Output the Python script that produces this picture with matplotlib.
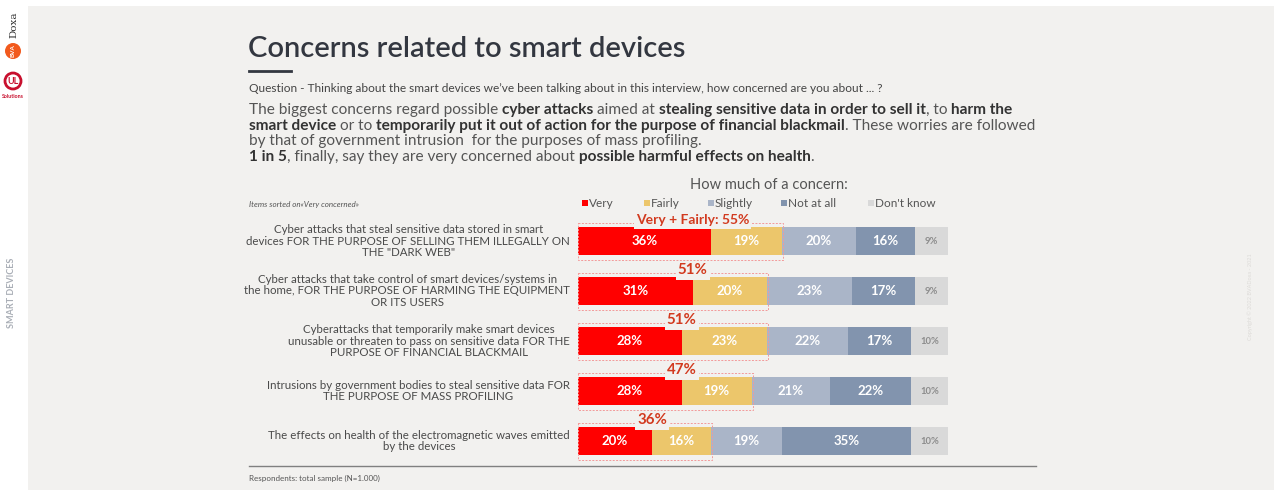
import matplotlib as mpl
import matplotlib.pyplot as plt
from matplotlib.patches import Rectangle, Ellipse
mpl.use('Agg')

W, H = 1274, 490

# survey items, top to bottom
items = [
    'Cyber attacks that steal sensitive data stored in smart\n'
    'devices FOR THE PURPOSE OF SELLING THEM ILLEGALLY ON\n'
    'THE "DARK WEB"',
    'Cyber attacks that take control of smart devices/systems in\n'
    'the home, FOR THE PURPOSE OF HARMING THE EQUIPMENT\n'
    'OR ITS USERS',
    'Cyberattacks that temporarily make smart devices\n'
    'unusable or threaten to pass on sensitive data FOR THE\n'
    'PURPOSE OF FINANCIAL BLACKMAIL',
    'Intrusions by government bodies to steal sensitive data FOR\n'
    'THE PURPOSE OF MASS PROFILING',
    'The effects on health of the electromagnetic waves emitted\n'
    'by the devices',
]
levels = ['Very', 'Fairly', 'Slightly', 'Not at all', "Don't know"]
very = [36, 31, 28, 28, 20]
fairly = [19, 20, 23, 19, 16]
slightly = [20, 23, 22, 21, 19]
not_at_all = [16, 17, 17, 22, 35]
dont_know = [9, 9, 10, 10, 10]

colors = ['#ff0000', '#ecc66b', '#aab5c8', '#8294ae', '#d9d9d9']
label_colors = ['white', 'white', 'white', 'white', '#8c8c8c']
BG = '#f2f1ef'
FONT = ['Lato', 'DejaVu Sans']
plt.rcParams['font.family'] = FONT

fig = plt.figure(figsize=(W / 100, H / 100), dpi=100, facecolor='white')
renderer = fig.canvas.get_renderer()


def fx(x):
    return x / W


def fy(y):
    return 1 - y / H


def text_px(x, y, s, **kw):
    return fig.text(fx(x), fy(y), s, **kw)


def circle_px(x, y, r, **kw):
    fig.add_artist(Ellipse((fx(x), fy(y)), 2 * r / W, 2 * r / H,
                           transform=fig.transFigure, **kw))


def text_width(s, **kw):
    t = fig.text(0, 0, s, **kw)
    w = t.get_window_extent(renderer).width
    t.remove()
    return w


def rich_line(x, y, runs, size, colors_nb=('#555555', '#333333')):
    # runs of (text, bold) laid out one after another on a line
    for chunk, bold in runs:
        kw = dict(fontsize=size, weight='bold' if bold else 'normal')
        sp = text_width('a a', **kw) - text_width('aa', **kw)
        core = chunk.strip(' ')
        lead = len(chunk) - len(chunk.lstrip(' '))
        trail = len(chunk) - len(chunk.rstrip(' '))
        x += lead * sp
        if core:
            text_px(x, y, core, va='center', ha='left',
                    color=colors_nb[1] if bold else colors_nb[0], **kw)
            x += text_width(core, **kw)
        x += trail * sp


# page background
fig.add_artist(Rectangle((fx(28), 0), 1 - fx(28), fy(6), transform=fig.transFigure,
                         facecolor=BG, edgecolor='none', zorder=-10))

# logos on the left strip
text_px(14, 25, 'Doxa', rotation=90, ha='center', va='center', fontsize=7.5,
        color='#333333', family=['DejaVu Serif'])
circle_px(13, 51, 8, facecolor='#f25a1d', edgecolor='none')
text_px(13, 51, 'BVA', rotation=90, ha='center', va='center', fontsize=4.5,
        color='white', weight='bold')
circle_px(13, 81, 8, facecolor='white', edgecolor='#c8102e', linewidth=2)
text_px(13, 81, 'UL', ha='center', va='center', fontsize=6.5, color='#c8102e',
        weight='bold')
text_px(13, 97, 'Solutions', ha='center', va='center', fontsize=3.8,
        color='#c8102e', weight='bold')
text_px(12, 293, 'SMART DEVICES', rotation=90, ha='center', va='center',
        fontsize=6.5, color='#a9aeb6', weight='bold')
text_px(1250, 297, 'Copyright © 2022 BVADoxa - 2021', rotation=90, ha='center',
        va='center', fontsize=4, color='#dddbd8')

# header
text_px(248, 49, 'Concerns related to smart devices', fontsize=21,
        color='#333740', weight='semibold', va='center')
fig.add_artist(plt.Line2D([fx(249), fx(291)], [fy(71), fy(71)],
                          transform=fig.transFigure, color='#333740', lw=2))
text_px(249, 88, 'Question - Thinking about the smart devices we\u2019ve been talking about '
        'in this interview, how concerned are you about ... ?',
        fontsize=8.6, color='#444444', va='center')

paragraph = [
    [('The biggest concerns regard possible ', False), ('cyber attacks', True),
     (' aimed at ', False), ('stealing sensitive data in order to sell it', True),
     (', to ', False), ('harm the', True)],
    [('smart device', True), (' or to ', False),
     ('temporarily put it out of action for the purpose of financial blackmail', True),
     ('. These worries are followed', False)],
    [('by that of government intrusion  for the purposes of mass profiling.', False)],
    [('1 in 5', True), (', finally, say they are very concerned about ', False),
     ('possible harmful effects on health', True), ('.', False)],
]
for k, line in enumerate(paragraph):
    rich_line(249, 110 + 15.7 * k, line, 11.1)

# legend
text_px(769, 185, 'How much of a concern:', fontsize=10.5, color='#555555',
        ha='center', va='center')
text_px(249, 204, 'Items sorted on\u00abVery concerned\u00bb', fontsize=5.8,
        color='#555555', style='italic', va='center')
legend_x = [582, 644, 708, 781, 868]
for lx, name, c in zip(legend_x, levels, colors):
    fig.add_artist(Rectangle((fx(lx), fy(206)), 6 / W, 6 / H,
                             transform=fig.transFigure, facecolor=c, edgecolor='none'))
    text_px(lx + 7, 203, name, fontsize=8.5, color='#555555', va='center')

# stacked bars
ax = fig.add_axes([fx(578), fy(466), 370 / W, 250 / H])
ax.set_xlim(0, 100)
ax.set_ylim(4.5, -0.5)
ax.axis('off')

series = [very, fairly, slightly, not_at_all, dont_know]
rows = range(len(items))
left = [0] * len(items)
for s, vals in enumerate(series):
    ax.barh(rows, vals, left=left, height=0.56, color=colors[s], edgecolor='none')
    for i, v in enumerate(vals):
        size = 9.5 if s < 4 else 6.8
        ax.text(left[i] + v / 2, i, f'{v}%', ha='center', va='center',
                fontsize=size, color=label_colors[s], weight='bold')
    left = [a + b for a, b in zip(left, vals)]

# very + fairly boxes
for i in rows:
    top = very[i] + fairly[i]
    ax.add_patch(Rectangle((0, i - 0.36), top + 0.3, 0.74, fill=False,
                           edgecolor='#f29a9a', linestyle=(0, (2, 1.5)),
                           linewidth=0.7, clip_on=False, zorder=3))
    label = f'Very + Fairly: {top}%' if i == 0 else f'{top}%'
    lx = 31 if i == 0 else very[i]
    ax.text(lx, i - 0.41, label, ha='center', va='center',
            fontsize=10 if i == 0 else 10.8,
            color='#d23a1f', weight='bold', zorder=4,
            bbox=dict(facecolor=BG, edgecolor='none', pad=1.5))

for i, name in enumerate(items):
    text_px(570, 241 + 50 * i, name, ha='right', va='center', fontsize=8.3,
            color='#4a4a4a', multialignment='center', linespacing=1.1)

# footer
fig.add_artist(plt.Line2D([fx(249), fx(1036)], [fy(466), fy(466)],
                          transform=fig.transFigure, color='#808080', lw=1))
text_px(249, 478, 'Respondents: total sample (N=1.000)', fontsize=5.8,
        color='#555555', va='center')

fig.savefig('out.png', dpi=100, facecolor='white')
